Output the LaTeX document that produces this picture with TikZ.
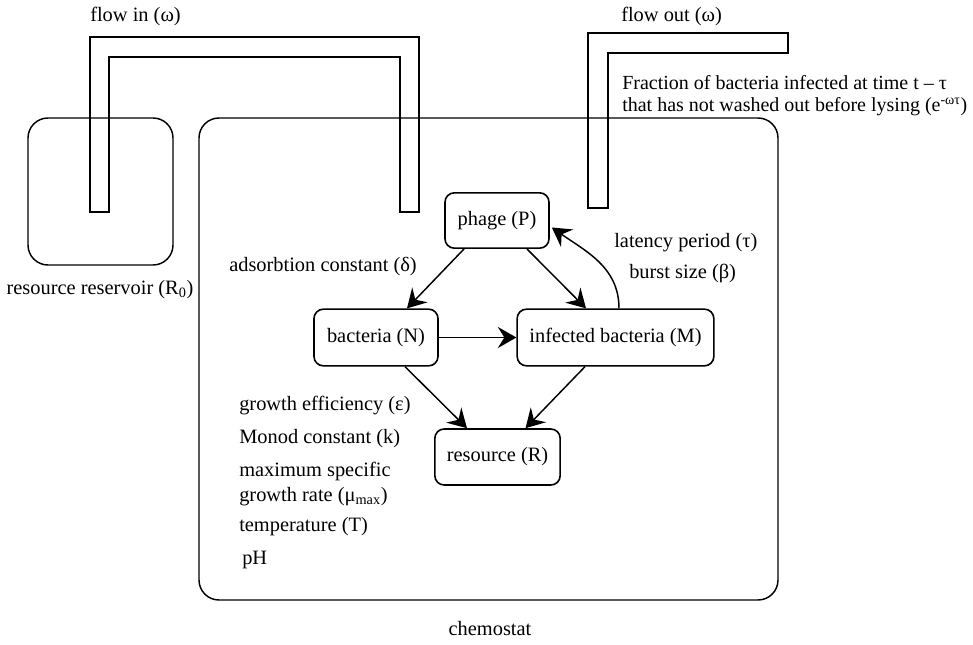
\documentclass[tikz,border=0pt]{standalone}
\usepackage{fontspec}
\setmainfont{Liberation Serif}
\usetikzlibrary{arrows.meta,calc}
\tikzset{
  box/.style={draw,line width=1.2pt,rounded corners=7pt,inner sep=0pt,font=\fontsize{15.3}{18}\selectfont},
  lbl/.style={inner sep=0pt,anchor=west,font=\fontsize{15.3}{18}\selectfont},
  lbls/.style={inner sep=0pt,anchor=west,font=\fontsize{15}{18}\selectfont},
  wall/.style={line width=1.1pt},
  arr/.style={line width=1.1pt,-{Stealth[length=14pt,width=16pt,inset=5pt]}}
}
\begin{document}
\begin{tikzpicture}[x=0.75pt,y=-0.75pt]
\useasboundingbox (0,0) rectangle (973,645);
% vessels
\draw[wall,rounded corners=15pt] (28,118) rectangle (173,265);
\draw[wall,rounded corners=15pt] (199,118) rectangle (778,600);
% inflow pipe
\draw[wall] (90,212) -- (90,37) -- (419,37) -- (419,212) -- (400,212) -- (400,57) -- (109,57) -- (109,212) -- cycle;
% outflow pipe
\draw[wall] (588,208) -- (588,33) -- (788,33) -- (788,53) -- (608,53) -- (608,208) -- cycle;
% labels
\node[lbl] (fin) at (90,16) {flow in (ω)};
\node[lbl] (fout) at (621,16) {flow out (ω)};
\node[lbls] (frac1) at (622,83) {Fraction of bacteria infected at time t – τ};
\node[lbls] (frac2) at (622,107) {that has not washed out before lysing (e\textsuperscript{-ωτ})};
\node[lbl,anchor=center] (res0) at (100,290) {resource reservoir (R\textsubscript{0})};
\node[lbl,anchor=center] (chem) at (490,629) {chemostat};
\node[lbl] (ads) at (229,267) {adsorbtion constant (δ)};
\node[lbl] (lat) at (614,243) {latency period (τ)};
\node[lbl] (bur) at (629,273) {burst size (β)};
\node[lbl] (ge) at (239,406) {growth efficiency (ε)};
\node[lbl] (mc) at (239,439) {Monod constant (k)};
\node[lbl] (ms) at (239,471) {maximum specific};
\node[lbl] (gr) at (239,497) {growth rate (μ\textsubscript{max})};
\node[lbl] (te) at (239,527) {temperature (T)};
\node[lbl] (ph) at (242,560) {pH};
% nodes
\node[box,minimum width=78pt,minimum height=41.5pt] (phage) at (497,220.5) {phage (P)};
\node[box,minimum width=93pt,minimum height=42.5pt] (bact) at (376,337.5) {bacteria (N)};
\node[box,minimum width=147.5pt,minimum height=42.5pt] (inf) at (615.5,337.5) {infected bacteria (M)};
\node[box,minimum width=94pt,minimum height=42pt] (res) at (497.5,457) {resource (R)};
% connectors
\draw[arr] ($(phage.south)+(-33,0)$) -- ($(bact.north)+(31,0)$);
\draw[arr] ($(phage.south)+(30,0)$) -- ($(inf.north)+(-29.5,0)$);
\draw[arr] (bact.east) -- (inf.west);
\draw[arr] ($(bact.south)+(29,0)$) -- ($(res.north)+(-30.5,0)$);
\draw[arr] ($(inf.south)+(-30.5,0)$) -- ($(res.north)+(28,0)$);
\draw[arr] ($(inf.north)+(3.5,0)$) to[out=90,in=-35] ($(phage.east)+(2,7)$);
\end{tikzpicture}
\end{document}
